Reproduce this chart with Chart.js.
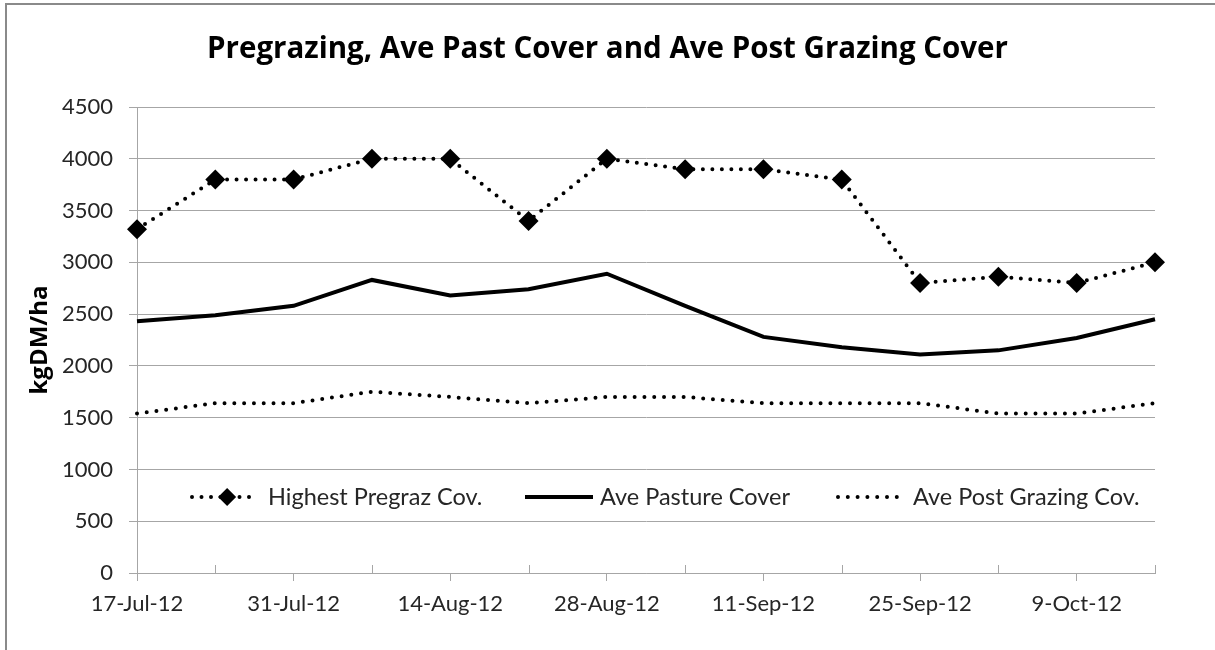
<!DOCTYPE html>
<html>
<head>
<meta charset="utf-8">
<title>Pregrazing, Ave Past Cover and Ave Post Grazing Cover</title>
<script src="https://cdn.jsdelivr.net/npm/chart.js@4.4.1/dist/chart.umd.min.js"></script>
<style>
    html, body { margin: 0; padding: 0; background: #fff; overflow: hidden; }
    #frame {
        position: absolute; left: 5px; top: 3px;
        width: 1230px; height: 670px;
        border: 2px solid #8a8a8a; box-sizing: border-box;
    }
    #wrap { position: absolute; left: 0; top: 0; width: 1215px; height: 650px; }
</style>
</head>
<body>
<div id="frame"></div>
<div id="wrap"><canvas id="coverChart"></canvas></div>
<script>
// dates (weekly)
const dates = ['17-Jul-12', '24-Jul-12', '31-Jul-12', '7-Aug-12', '14-Aug-12', '21-Aug-12', '28-Aug-12',
    '4-Sep-12', '11-Sep-12', '18-Sep-12', '25-Sep-12', '2-Oct-12', '9-Oct-12', '16-Oct-12'];

// kgDM/ha
const highestPregraz = [3320, 3800, 3800, 4000, 4000, 3400, 4000, 3900, 3900, 3800, 2800, 2860, 2800, 3000];
const avePasture = [2430, 2490, 2580, 2830, 2680, 2740, 2890, 2580, 2280, 2180, 2110, 2150, 2270, 2450];
const avePostGrazing = [1540, 1640, 1640, 1750, 1700, 1640, 1700, 1700, 1640, 1640, 1640, 1540, 1540, 1640];

const seriesNames = ['Highest Pregraz Cov.', 'Ave Pasture Cover', 'Ave Post Grazing Cov.'];
const yTicks = [0, 500, 1000, 1500, 2000, 2500, 3000, 3500, 4000, 4500];

const FONT = "Lato, 'Open Sans', sans-serif";
const BOLD_FONT = "'Open Sans', Lato, sans-serif";
const GRID = '#a6a6a6';

// small ticks pointing up at the in-between weeks
const minorTicks = {
    id: 'minorTicks',
    afterDraw(chart) {
        const x = chart.scales.x;
        const ctx = chart.ctx;
        ctx.save();
        ctx.strokeStyle = GRID;
        ctx.lineWidth = 1;
        dates.forEach((d, i) => {
            if (i % 2 === 0) return;
            const px = Math.round(x.getPixelForValue(i)) + 0.5;
            ctx.beginPath();
            ctx.moveTo(px, x.top - 8);
            ctx.lineTo(px, x.top);
            ctx.stroke();
        });
        ctx.restore();
    }
};

// legend sitting inside the plot, like the excel one
const insideLegend = {
    id: 'insideLegend',
    afterDraw(chart) {
        const ctx = chart.ctx;
        const area = chart.chartArea;
        const y = Math.round(chart.scales.y.getPixelForValue(735));
        const items = [
            { off: 55, len: 65, gap: 11, ds: 0 },
            { off: 388, len: 68, gap: 7, ds: 1 },
            { off: 701, len: 65, gap: 10, ds: 2 }
        ];
        ctx.save();
        items.forEach(it => {
            const ds = chart.data.datasets[it.ds];
            const x0 = area.left + it.off;
            ctx.strokeStyle = '#000';
            ctx.lineWidth = ds.borderWidth;
            ctx.lineCap = ds.borderCapStyle || 'butt';
            ctx.setLineDash(ds.borderDash || []);
            ctx.beginPath();
            ctx.moveTo(x0, y);
            ctx.lineTo(x0 + it.len, y);
            ctx.stroke();
            ctx.setLineDash([]);
            if (ds.pointRadius > 0) {
                const cx = x0 + it.len * 0.54;
                const r = 9;
                ctx.fillStyle = '#000';
                ctx.beginPath();
                ctx.moveTo(cx - r, y);
                ctx.lineTo(cx, y - r);
                ctx.lineTo(cx + r, y);
                ctx.lineTo(cx, y + r);
                ctx.closePath();
                ctx.fill();
            }
            ctx.fillStyle = '#262626';
            ctx.font = '23.5px ' + FONT;
            ctx.textBaseline = 'middle';
            ctx.fillText(ds.label, x0 + it.len + it.gap, y);
        });
        ctx.restore();
    }
};

const ctx = document.getElementById('coverChart').getContext('2d');
new Chart(ctx, {
    type: 'line',
    data: {
        labels: dates,
        datasets: [{
            label: seriesNames[0],
            data: highestPregraz,
            borderColor: '#000',
            backgroundColor: '#000',
            borderWidth: 4,
            borderDash: [0, 9.5],
            borderCapStyle: 'round',
            pointStyle: 'rectRot',
            pointRadius: 10,
            pointHoverRadius: 10,
            pointBorderWidth: 0,
            tension: 0
        }, {
            label: seriesNames[1],
            data: avePasture,
            borderColor: '#000',
            borderWidth: 4,
            pointRadius: 0,
            tension: 0
        }, {
            label: seriesNames[2],
            data: avePostGrazing,
            borderColor: '#000',
            borderWidth: 4,
            borderDash: [0, 9.8],
            borderCapStyle: 'round',
            pointRadius: 0,
            tension: 0
        }]
    },
    options: {
        responsive: true,
        maintainAspectRatio: false,
        animation: false,
        layout: { padding: 0 },
        plugins: {
            legend: { display: false },
            tooltip: { enabled: false },
            title: {
                display: true,
                text: 'Pregrazing, Ave Past Cover and Ave Post Grazing Cover',
                color: '#000',
                font: { family: BOLD_FONT, size: 29.5, weight: 'bold', lineHeight: 1.2 },
                padding: { top: 32, bottom: 39.6 }
            }
        },
        scales: {
            x: {
                type: 'category',
                offset: false,
                afterFit: s => { s.height = 77; },
                border: { color: GRID, width: 1 },
                grid: {
                    drawOnChartArea: false,
                    tickLength: 8,
                    color: c => (c.index % 2 === 0 ? GRID : 'rgba(0,0,0,0)')
                },
                ticks: {
                    autoSkip: false,
                    maxRotation: 0,
                    minRotation: 0,
                    padding: 10,
                    color: '#262626',
                    font: { family: FONT, size: 22 },
                    callback: (v, i) => (i % 2 === 0 ? dates[i] : '')
                }
            },
            y: {
                min: yTicks[0],
                max: yTicks[yTicks.length - 1],
                afterFit: s => { s.width = 137; },
                afterBuildTicks: s => { s.ticks = yTicks.map(v => ({ value: v })); },
                border: { color: GRID, width: 1 },
                grid: { color: GRID, tickLength: 8, lineWidth: 1 },
                ticks: {
                    padding: 16,
                    color: '#262626',
                    font: { family: FONT, size: 22 },
                    callback: v => String(v)
                },
                title: {
                    display: true,
                    text: 'kgDM/ha',
                    color: '#000',
                    font: { family: BOLD_FONT, size: 24, weight: 'bold', lineHeight: 1.2 },
                    padding: { top: 26, bottom: 0 }
                }
            },
            // empty strip on the right so the title centres on the whole chart
            yRight: {
                position: 'right',
                min: yTicks[0],
                max: yTicks[yTicks.length - 1],
                afterFit: s => { s.width = 60; },
                border: { display: false },
                grid: { display: false },
                ticks: { display: false }
            }
        }
    },
    plugins: [minorTicks, insideLegend]
});
</script>
</body>
</html>
